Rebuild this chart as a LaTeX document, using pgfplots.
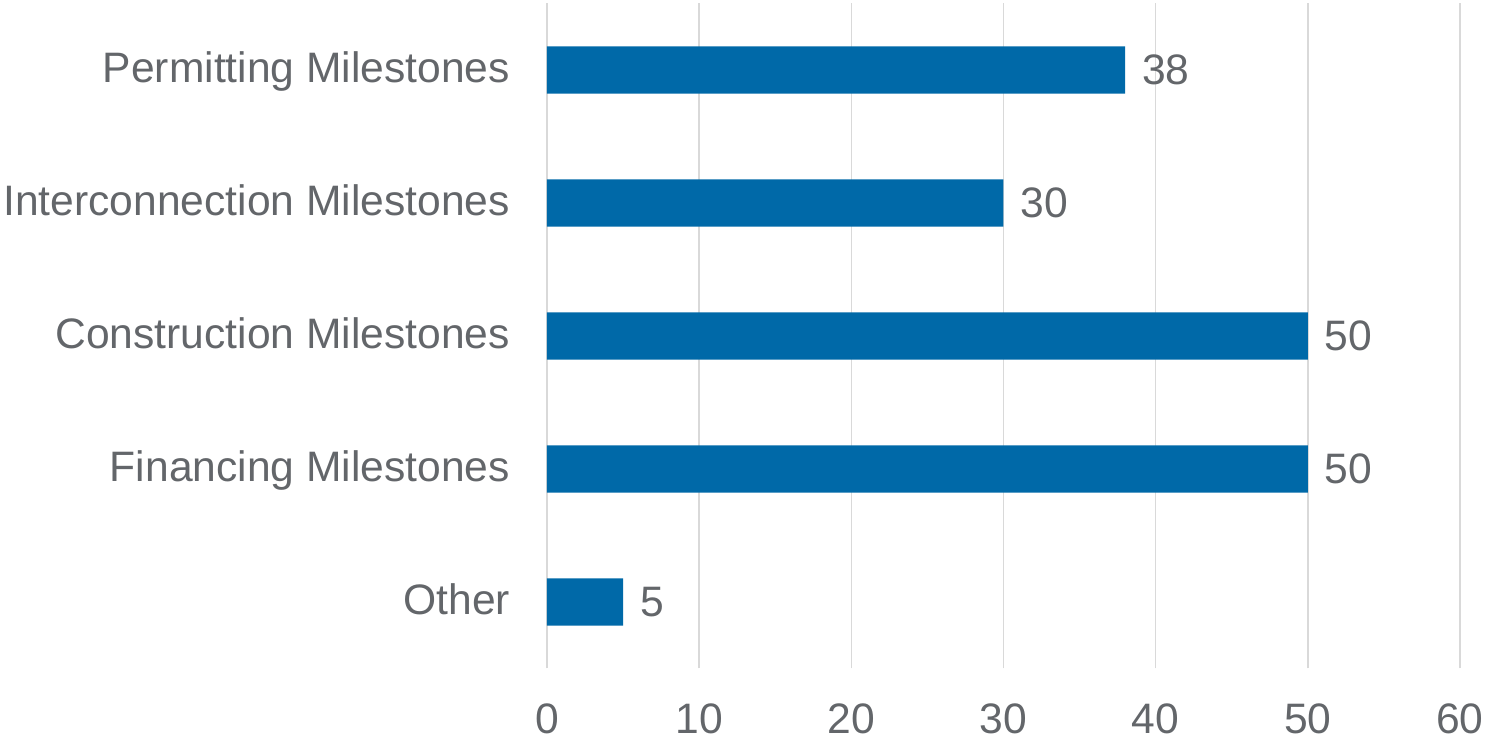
\documentclass[border=0pt]{standalone}
\usepackage{pgfplots}
\pgfplotsset{compat=1.18}
\usepackage{fontspec}
\setmainfont{Liberation Sans}
\definecolor{barblue}{HTML}{0069A8}
\definecolor{textgray}{HTML}{63666A}
\definecolor{gridgray}{HTML}{D9D9D9}
\begin{document}
\begin{tikzpicture}
\useasboundingbox (-273.5pt,-36.75pt) rectangle (469.5pt,334.25pt);
\begin{axis}[
  at={(0,0)}, anchor=south west,
  scale only axis,
  width=456.5pt, height=332.5pt,
  xbar, bar width=0.356, bar shift=0pt,
  xmin=0, xmax=60, ymin=-0.5, ymax=4.5,
  xtick={0,10,...,60},
  ytick={0,1,2,3,4},
  yticklabels={Other, Financing Milestones, Construction Milestones, Interconnection Milestones, Permitting Milestones},
  xmajorgrids, ymajorgrids=false,
  grid style={gridgray, line width=0.8pt},
  axis line style={draw=none},
  major tick style={draw=none},
  /pgf/number format/assume math mode=true,
  ticklabel style={font=\fontsize{21.3}{25}\selectfont, text=textgray, inner sep=0pt},
  yticklabel style={anchor=east, xshift=-14pt, text height=15pt, text depth=2.5pt},
  xticklabel style={anchor=north, yshift=-17.25pt},
  nodes near coords,
  nodes near coords style={anchor=west, inner sep=0pt, xshift=8.3pt, text=textgray, font=\fontsize{21.3}{25}\selectfont, /pgf/number format/assume math mode=true},
  clip=false,
]
\addplot[fill=barblue, draw=none] coordinates {(5,0) (50,1) (50,2) (30,3) (38,4)};
\end{axis}
\end{tikzpicture}
\end{document}
